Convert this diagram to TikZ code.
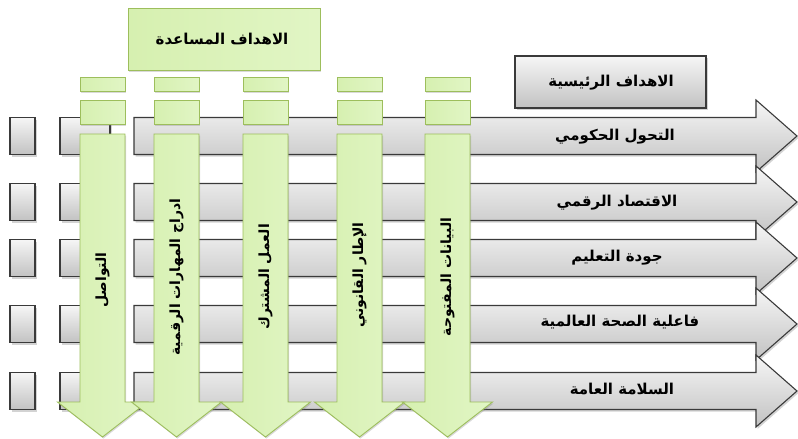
\documentclass[tikz,border=0pt]{standalone}
\usepackage{fontspec}
\newfontfamily\arabicfont[Script=Arabic]{DejaVu Sans}
\TeXXeTstate=1
\usetikzlibrary{shadows}
\definecolor{grayT}{HTML}{F6F6F6}
\definecolor{grayB}{HTML}{C2C2C2}
\definecolor{edgeD}{HTML}{3A3A3A}
\definecolor{greenL}{HTML}{D6F0B0}
\definecolor{greenM}{HTML}{F2FDE4}
\definecolor{greenE}{HTML}{9DBE5C}
\tikzset{
  greybox/.style={draw=edgeD, line width=1.1pt, top color=grayT, bottom color=grayB,
    drop shadow={shadow xshift=1.5pt, shadow yshift=-2pt, opacity=0.35}},
  greenbox/.style={draw=greenE, line width=0.9pt, left color=greenL, middle color=greenM, right color=greenL!60!greenM,
    drop shadow={shadow xshift=1pt, shadow yshift=-1.5pt, opacity=0.3}},
  rowtext/.style={font=\arabicfont\bfseries\fontsize{15}{18}\selectfont, inner sep=1pt},
  coltext/.style={font=\arabicfont\bfseries\fontsize{14}{17}\selectfont, rotate=90, inner sep=1pt},
}
\begin{document}
\begin{tikzpicture}[x=1pt,y=-1pt]
\useasboundingbox (0,0) rectangle (798,439);
% main objectives (rows)
\foreach \c/\n in {136/1,202/2,258/3,324/4,391/5} {
  \path[greybox] (10,\c-18.5) rectangle (35,\c+18.5);
  \path[greybox] (60,\c-18.5) rectangle (110,\c+18.5);
  \path[greybox] (134,\c-18.5) -- (756,\c-18.5) -- (756,\c-36) -- (797,\c) -- (756,\c+36) -- (756,\c+18.5) -- (134,\c+18.5) -- cycle;
}
\node[rowtext] (r1) at (615,137) {\beginR التحول الحكومي\endR};
\node[rowtext] (r2) at (617,203) {\beginR الاقتصاد الرقمي\endR};
\node[rowtext] (r3) at (617,258) {\beginR جودة التعليم\endR};
\node[rowtext] (r4) at (620,322) {\beginR فاعلية الصحة العالمية\endR};
\node[rowtext] (r5) at (622,389) {\beginR السلامة العامة\endR};
% header boxes
\path[greenbox] (128,8) rectangle (320,70);
\node[rowtext] (hA) at (222,39) {\beginR الاهداف المساعدة\endR};
\path[greybox] (515,56) rectangle (706,108);
\node[rowtext] (hB) at (611,83) {\beginR الاهداف الرئيسية\endR};
% supporting objectives (columns)
\foreach \x in {80,154,243,337,425} {
  \path[greenbox] (\x,77) rectangle (\x+45,91);
  \path[greenbox] (\x,100) rectangle (\x+45,124);
  \path[greenbox] (\x,134) -- (\x+45,134) -- (\x+45,402) -- (\x+67.5,402) -- (\x+22.5,437) -- (\x-22.5,402) -- (\x,402) -- cycle;
}
\node[coltext] (c1) at (102.5,280) {\beginR التواصل\endR};
\node[coltext] (c2) at (176.5,277) {\beginR ادراج المهارات الرقمية\endR};
\node[coltext] (c3) at (265.5,277) {\beginR العمل المشترك\endR};
\node[coltext] (c4) at (359.5,275) {\beginR الإطار القانوني\endR};
\node[coltext] (c5) at (447.5,277) {\beginR البيانات المفتوحة\endR};
\end{tikzpicture}
\end{document}
